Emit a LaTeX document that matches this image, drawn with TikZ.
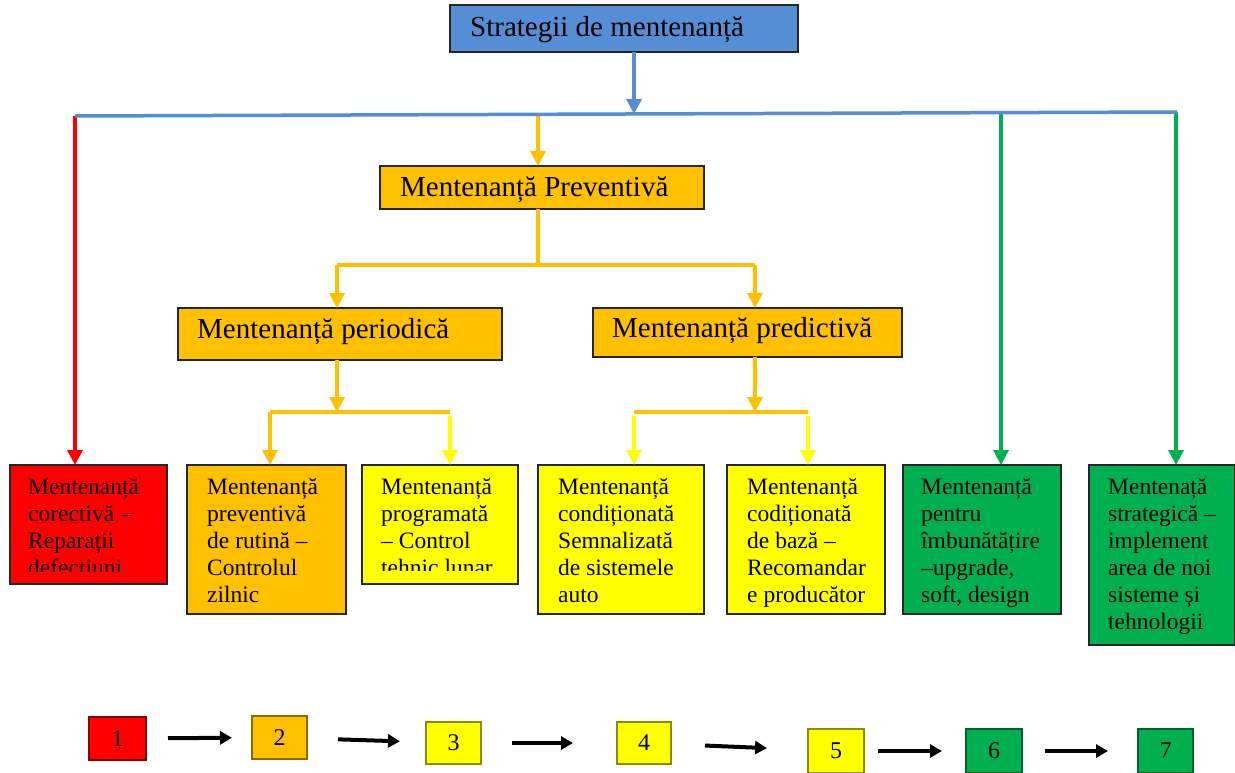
\documentclass[tikz,border=0pt]{standalone}
\usepackage{fontspec}
\setmainfont{Liberation Serif}
\usetikzlibrary{arrows.meta,calc}
\definecolor{cblue}{HTML}{558ED5}
\definecolor{corange}{HTML}{FFC000}
\definecolor{cyellow}{HTML}{FFFF00}
\definecolor{cgreen}{HTML}{00B050}
\definecolor{cred}{HTML}{FF0000}
% stack of lines whose baseline is the first line
\newcommand{\leaflines}[1]{\begin{tabular}[t]{@{}l@{}}#1\end{tabular}}
\tikzset{
  frame/.style={draw=black!85, line width=1.5pt, inner sep=0pt, outer sep=0pt, anchor=north west},
  bigtext/.style={font=\fontsize{29}{33}\selectfont, inner sep=0pt, anchor=west},
  smalltext/.style={font=\fontsize{23.5}{27}\selectfont, inner sep=0pt, anchor=base west},
  link/.style={line width=3.5pt, -{Triangle[width=15pt,length=15pt]}},
  plain/.style={line width=3.5pt},
  numsq/.style={draw=#1!55!black, fill=#1, line width=1.5pt, inner sep=0pt, outer sep=0pt,
    anchor=north west, font=\fontsize{24}{28}\selectfont},
  flow/.style={line width=4pt, -{Triangle[width=13pt,length=12pt]}}
}
\begin{document}
\begin{tikzpicture}[x=1pt,y=-1pt]
\useasboundingbox (0,0) rectangle (1235,773);

% top level
\node[frame, fill=cblue, minimum width=348pt, minimum height=47pt] (top) at (450,5) {};
\node[bigtext] (topt) at (470,30) {Strategii de mentenanță};

% second level
\node[frame, fill=corange, minimum width=324pt, minimum height=43pt] (prev) at (380,166) {};
\node[bigtext] (prevt) at (400,190) {Mentenanță Preventivă};

% third level
\node[frame, fill=corange, minimum width=324pt, minimum height=52pt] (per) at (178,308) {};
\node[bigtext] (pert) at (197,332) {Mentenanță periodică};
\node[frame, fill=corange, minimum width=309pt, minimum height=49pt] (pred) at (593,308) {};
\node[bigtext] (predt) at (612,331) {Mentenanță predictivă};

% leaf boxes
\node[frame, fill=cred, minimum width=157pt, minimum height=119pt] (c1) at (10,465) {};
\node[frame, fill=corange, minimum width=159pt, minimum height=149pt] (c2) at (187,465) {};
\node[frame, fill=cyellow, minimum width=156pt, minimum height=119pt] (c3) at (362,465) {};
\node[frame, fill=cyellow, minimum width=166pt, minimum height=149pt] (c4) at (538,465) {};
\node[frame, fill=cyellow, minimum width=158pt, minimum height=149pt] (c5) at (727,465) {};
\node[frame, fill=cgreen, minimum width=158pt, minimum height=149pt] (c6) at (903,465) {};
\node[frame, fill=cgreen, minimum width=146pt, minimum height=180pt] (c7) at (1089,465) {};

% leaf texts (the two short boxes cut off their last line)
\begin{scope}
  \clip (10,465) rectangle (167,571);
  \node[smalltext] (c1t) at (28,494) {\leaflines{Mentenanță\\corectivă –\\Reparații\\defectiuni}};
\end{scope}
\node[smalltext] (c2t) at (207,494) {\leaflines{Mentenanță\\preventivă\\de rutină –\\Controlul\\zilnic}};
\begin{scope}
  \clip (362,465) rectangle (518,570);
  \node[smalltext] (c3t) at (381,494) {\leaflines{Mentenanță\\programată\\– Control\\tehnic lunar}};
\end{scope}
\node[smalltext] (c4t) at (558,494) {\leaflines{Mentenanță\\condiționată\\Semnalizată\\de sistemele\\auto}};
\node[smalltext] (c5t) at (747,494) {\leaflines{Mentenanță\\codiționată\\de bază –\\Recomandar\\e producător}};
\node[smalltext] (c6t) at (921,494) {\leaflines{Mentenanță\\pentru\\îmbunătățire\\–upgrade,\\soft, design}};
\node[smalltext] (c7t) at (1108,494) {\leaflines{Mentenață\\strategică –\\implement\\area de noi\\sisteme și\\tehnologii}};

% junction points
\coordinate (busL) at (75,116);
\coordinate (busR) at (1177,112);
\coordinate (busM) at (634,114);
\coordinate (bo) at (538,115);
\coordinate (bg1) at (1001,113);
\coordinate (bg2) at (1176,112);
\coordinate (s1) at (538,265);
\coordinate (s1L) at (337,265);
\coordinate (s1R) at (755,265);
\coordinate (s2) at (337,412);
\coordinate (s2L) at (270,412);
\coordinate (s2R) at (450,412);
\coordinate (s3) at (755,412);
\coordinate (s3L) at (634,412);
\coordinate (s3R) at (808,412);

% branches from the main bus
\draw[cred, link] (busL) -- (busL |- c1.north);
\draw[corange, link] (bo) -- (bo |- prev.north);
\draw[cgreen, link] (bg1) -- (bg1 |- c6.north);
\draw[cgreen, link] (bg2) -- (bg2 |- c7.north);
\draw[cblue, plain] (busL) -- (busR);
\draw[cblue, link] (busM |- top.south) -- (busM);

% preventive branch
\draw[corange, plain] (s1 |- prev.south) -- (s1);
\draw[corange, plain] (s1L) -- (s1R);
\draw[corange, link] (s1L) -- (s1L |- per.north);
\draw[corange, link] (s1R) -- (s1R |- pred.north);

% periodic branch
\draw[corange, link] (s2 |- per.south) -- (s2);
\draw[corange, plain] (s2L) -- (s2R);
\draw[corange, link] (s2L) -- (s2L |- c2.north);
\draw[cyellow, link] ($(s2R)+(0,4)$) -- (s2R |- c3.north);

% predictive branch
\draw[corange, link] (s3 |- pred.south) -- (s3);
\draw[corange, plain] (s3L) -- (s3R);
\draw[cyellow, link] ($(s3L)+(0,4)$) -- (s3L |- c4.north);
\draw[cyellow, link] ($(s3R)+(0,4)$) -- (s3R |- c5.north);

% numbered sequence
\node[numsq=cred, minimum width=57pt, minimum height=43pt] (n1) at (89,717) {1};
\node[numsq=corange, minimum width=55pt, minimum height=43pt] (n2) at (252,716) {2};
\node[numsq=cyellow, minimum width=55pt, minimum height=42pt] (n3) at (426,722) {3};
\node[numsq=cyellow, minimum width=54pt, minimum height=42pt] (n4) at (617,722) {4};
\node[numsq=cyellow, minimum width=56pt, minimum height=44pt] (n5) at (808,729) {5};
\node[numsq=cgreen, minimum width=56pt, minimum height=44pt] (n6) at (966,729) {6};
\node[numsq=cgreen, minimum width=55pt, minimum height=44pt] (n7) at (1138,729) {7};

\draw[flow, shorten <=22pt, shorten >=20pt] (n1) -- (n2);
\draw[flow, shorten <=31pt, shorten >=26pt] (n2) -- (n3);
\draw[flow, shorten <=31pt, shorten >=44pt] (n3) -- (n4);
\draw[flow, shorten <=34pt, shorten >=41pt] (n4) -- (n5);
\draw[flow, shorten <=14pt, shorten >=24pt] (n5) -- (n6);
\draw[flow, shorten <=23pt, shorten >=30pt] (n6) -- (n7);
\end{tikzpicture}
\end{document}
